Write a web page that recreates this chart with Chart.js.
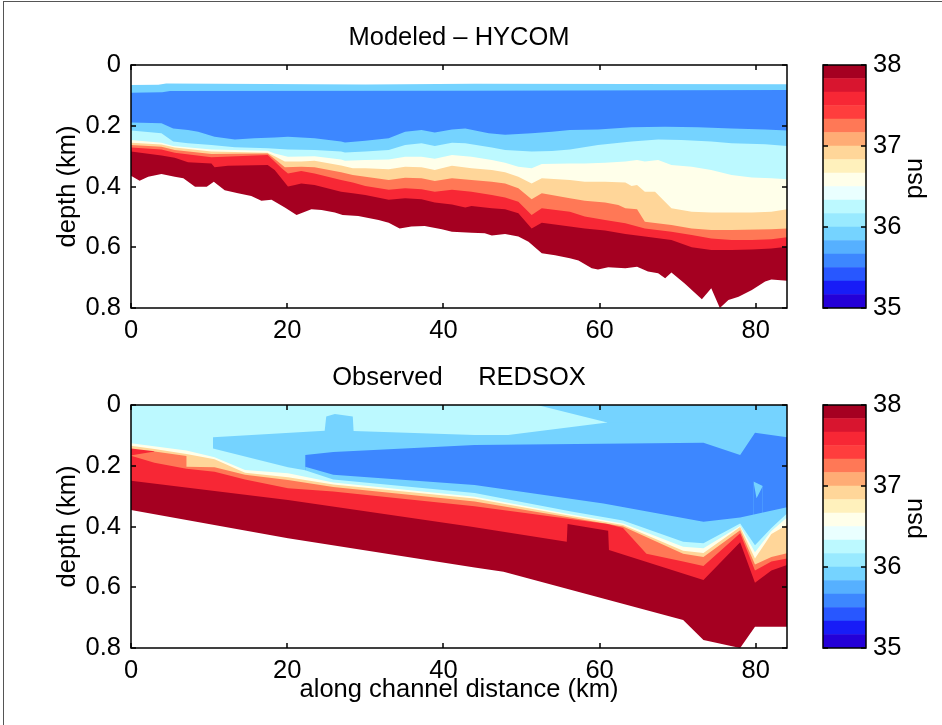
<!DOCTYPE html>
<html>
<head>
<meta charset="utf-8">
<script src="https://cdn.jsdelivr.net/npm/chart.js@4.4.1/dist/chart.umd.min.js"></script>
<style>
html, body { margin: 0; padding: 0; background: #fff; }
body { width: 942px; height: 725px; position: relative; overflow: hidden; }
#fig { position: absolute; left: 3px; top: 1px; width: 950px; height: 740px; border-left: 1px solid #555; border-top: 1px solid #555; }
canvas { position: absolute; }
</style>
</head>
<body>
<div id="fig"></div>
<canvas id="hycom" width="800" height="340" style="left:0;top:0"></canvas>
<canvas id="hycomBar" width="142" height="340" style="left:800px;top:0"></canvas>
<canvas id="redsox" width="800" height="385" style="left:0;top:340px"></canvas>
<canvas id="redsoxBar" width="142" height="385" style="left:800px;top:340px"></canvas>
<script>
// axis ticks
const distTicks = [0, 20, 40, 60, 80];
const depthTicks = [0, 0.2, 0.4, 0.6, 0.8];
const psuTicks = [35, 36, 37, 38];

// colour bar classes (psu) and their colours
const psuLevels = [35, 35.167, 35.333, 35.5, 35.667, 35.833, 36, 36.167, 36.333, 36.5,
                   36.667, 36.833, 37, 37.167, 37.333, 37.5, 37.667, 37.833, 38];
const psuColors = ['#2400d8', '#181cf7', '#2857ff', '#3d87ff', '#56b0ff', '#75d3ff',
                   '#99eaff', '#bcf9ff', '#eaffff', '#ffffea', '#fff1bc', '#ffd699',
                   '#ffac75', '#ff7856', '#ff3d3d', '#f72735', '#d8152f', '#a50021'];

const SKY = '#75d3ff', BLUE = '#3d87ff', LCYAN = '#bcf9ff', CREAM = '#ffffea';
const LORANGE = '#ffd699', ORANGE = '#ff7856', RED = '#f72735', DRED = '#a50021';

// Modeled - HYCOM: upper edge of each salinity band, [distance km, depth km]
const hyTop = [[0,0.066],[3.5,0.065],[4.5,0.061],[30,0.064],[44,0.062],[84,0.063]];
const hyBlue = [[0,0.091],[4,0.09],[5,0.086],[44,0.085],[84,0.082]];
const hySky = [[0,0.189],[3.9,0.192],[5.4,0.209],[7.3,0.214],[8.6,0.22],[10.7,0.236],[13.3,0.245],
  [15.8,0.241],[18.4,0.239],[20.1,0.236],[21.8,0.239],[23.5,0.241],[26.9,0.252],[27.4,0.255],[30,0.249],
  [33,0.241],[35.1,0.22],[37.2,0.214],[38.9,0.222],[41.1,0.212],[42.8,0.209],[45.8,0.225],[47.9,0.23],
  [51.3,0.225],[53.9,0.22],[56.2,0.214],[59.8,0.212],[64.1,0.205],[68.4,0.203],[72.6,0.205],[76.9,0.209],
  [81.2,0.212],[84,0.216]];
const hyLcyan = [[0,0.216],[3.9,0.225],[5.4,0.252],[7.3,0.258],[10.3,0.263],[13.3,0.271],[17.5,0.274],
  [20.1,0.278],[23.5,0.28],[26.9,0.285],[27.4,0.288],[30,0.285],[33,0.28],[35.1,0.263],[37.2,0.258],
  [38.9,0.267],[41.1,0.256],[42.8,0.258],[46.2,0.272],[47.9,0.28],[51.3,0.285],[53.9,0.283],[56.2,0.278],
  [59.8,0.263],[64.1,0.252],[67.5,0.245],[70.5,0.247],[74.3,0.252],[76.9,0.258],[81.2,0.261],[84,0.267]];
const hyCream = [[0,0.247],[3.9,0.256],[5.4,0.267],[10.3,0.278],[17.5,0.282],[18.4,0.291],[20.1,0.302],
  [23.5,0.3],[26.9,0.311],[27.4,0.315],[30,0.313],[33,0.311],[35.1,0.302],[37.2,0.302],[38.9,0.309],
  [41.1,0.296],[43.6,0.302],[46.2,0.313],[47.9,0.322],[49.6,0.335],[51.3,0.34],[52.6,0.326],[56.2,0.324],
  [58.1,0.324],[60.7,0.322],[63.3,0.318],[64.8,0.313],[65.8,0.318],[67.5,0.313],[69.2,0.329],[71.8,0.335],
  [74.3,0.346],[76.9,0.362],[79.5,0.37],[82,0.373],[84,0.376]];
const hyLorange = [[0,0.256],[3.9,0.262],[5.6,0.272],[10.3,0.285],[17.5,0.289],[18.4,0.3],[19.7,0.318],
  [21.8,0.318],[23.5,0.315],[26.9,0.331],[28.4,0.34],[30,0.34],[33,0.343],[35.1,0.335],[37.2,0.337],
  [38.9,0.346],[41.1,0.332],[43.6,0.34],[46.2,0.346],[47.9,0.353],[49.6,0.368],[51.3,0.39],[52.6,0.373],
  [56.2,0.379],[58.1,0.384],[60.7,0.384],[63.3,0.387],[64.1,0.398],[64.8,0.395],[65.8,0.417],[67.1,0.417],
  [69.2,0.472],[71.8,0.483],[74.3,0.486],[79.5,0.486],[82,0.483],[84,0.475]];
const hyOrange = [[0,0.263],[3.9,0.269],[5.6,0.28],[10.3,0.293],[17.5,0.291],[18.8,0.318],[19.7,0.337],
  [21.8,0.335],[23.5,0.337],[26.9,0.353],[28.4,0.362],[30,0.368],[33,0.379],[35.1,0.371],[37.2,0.373],
  [38.9,0.382],[41.1,0.373],[43.6,0.379],[46.2,0.384],[47.9,0.39],[49.6,0.406],[51.3,0.442],[52.6,0.422],
  [56.2,0.439],[58.1,0.447],[60.7,0.453],[62.4,0.461],[63.3,0.472],[64.8,0.475],[65.8,0.516],[69.2,0.527],
  [71.8,0.538],[74.3,0.543],[76.9,0.543],[82,0.541],[84,0.538]];
const hyRed = [[0,0.272],[3.9,0.278],[5.6,0.289],[10.3,0.304],[17.5,0.296],[19.3,0.34],[20.1,0.357],
  [21.8,0.349],[23.5,0.357],[26.9,0.379],[28.4,0.387],[30,0.398],[33,0.411],[35.1,0.406],[37.2,0.409],
  [38.9,0.417],[41.1,0.411],[43.6,0.417],[46.2,0.428],[47.9,0.436],[49.6,0.45],[51.3,0.494],[52.6,0.472],
  [56.2,0.483],[58.1,0.499],[60.7,0.51],[63.3,0.521],[65.8,0.538],[69.2,0.549],[71.8,0.56],[74.3,0.571],
  [76.9,0.576],[79.5,0.576],[82,0.574],[84,0.567]];
const hyDred = [[0,0.285],[3.9,0.298],[5.6,0.305],[7.3,0.32],[10.3,0.324],[10.7,0.337],[12.4,0.332],
  [17.5,0.329],[18.4,0.346],[20.1,0.4],[21,0.395],[21.8,0.39],[23.5,0.395],[26.9,0.417],[28.4,0.422],
  [30,0.428],[33,0.444],[35.1,0.439],[37.2,0.442],[38.9,0.453],[41.1,0.459],[42.8,0.469],[43.6,0.464],
  [46.2,0.472],[47.9,0.475],[49.6,0.488],[51.3,0.538],[52.6,0.519],[56.2,0.532],[58.1,0.538],[60.7,0.545],
  [63.3,0.556],[65.8,0.565],[69.2,0.576],[71.8,0.6],[74.3,0.609],[76.9,0.609],[79.5,0.607],[82,0.604],[84,0.598]];
const hyFloor = [[0,0.365],[1.1,0.381],[2.2,0.368],[3.9,0.359],[5.6,0.368],[6.7,0.373],[8.2,0.401],
  [9.7,0.401],[10.6,0.384],[12,0.412],[13.7,0.422],[15.4,0.431],[16.7,0.447],[18,0.444],[19.7,0.469],
  [21.2,0.494],[23.1,0.475],[24.4,0.477],[26.1,0.486],[27.1,0.494],[29.1,0.497],[31.7,0.51],[33,0.519],
  [34.4,0.538],[35.9,0.532],[37.6,0.53],[39.8,0.541],[41.1,0.549],[43.6,0.552],[45.3,0.554],[46.2,0.561],
  [47.9,0.556],[49.6,0.565],[50.9,0.582],[52.6,0.62],[54.3,0.626],[56.2,0.636],[57.3,0.644],[59,0.669],
  [59.8,0.673],[61.1,0.666],[63.3,0.669],[64.8,0.664],[66.2,0.68],[67.5,0.686],[68.4,0.702],[69.2,0.683],
  [70.9,0.719],[73.1,0.771],[74.3,0.735],[75.4,0.8],[76.5,0.774],[77.8,0.763],[79.5,0.741],[81.2,0.713],
  [82,0.706],[84,0.71]];

// Observed - REDSOX: upper edge of each band, [distance km, depth km]
const obSkyTop = [[0,0],[84,0]];
const obLcyanTop = [[0,0],[52,0],[61,0.058]];
const obSkyTongue = [[10.5,0.143],[10.5,0.106],[24.8,0.085],[25,0.038],[26.1,0.03],[28.4,0.038],
  [28.5,0.086],[44,0.099],[48.3,0.099],[61,0.058],[84,0.058]];
const obBlue = [[22.3,0.203],[22.3,0.165],[25.9,0.155],[44,0.132],[73.3,0.124],[78,0.165],[79.9,0.091],[84,0.106]];
const obSkyIsland = [[79.7,0.252],[80.9,0.267]];
const obBlueIsland = [[79.7,0.252],[80.1,0.307],[80.9,0.267]];
const obSkyBelow = [[22.3,0.203],[25.9,0.23],[44,0.263],[60.5,0.324],[73.3,0.384],[78,0.37],[79.9,0.36],[84,0.337]];
const obLcyan = [[0,0.12],[10.5,0.143],[20.1,0.205],[22.3,0.215],[25.9,0.245],[44,0.29],[56.2,0.35],
  [63,0.38],[70.7,0.45],[73.3,0.455],[78,0.39],[79.9,0.462],[82,0.405],[84,0.357]];
const obCream = [[0,0.126],[7.1,0.15],[10.7,0.172],[14.6,0.214],[20.1,0.225],[25.9,0.255],[44,0.302],
  [56.2,0.36],[63,0.39],[70.7,0.467],[73.3,0.472],[78,0.398],[79.9,0.485],[82,0.415],[84,0.37]];
const obLorange = [[0,0.134],[3,0.145],[7.1,0.161],[10.7,0.179],[14.6,0.223],[20.1,0.238],[25.9,0.262],
  [44,0.308],[56.2,0.365],[63,0.395],[70.7,0.48],[73.3,0.487],[78,0.402],[79.9,0.505],[82,0.425],[84,0.395]];
const obRedUpper = [[0,0.143],[3,0.152]];
const obOrange = [[0,0.166],[0.3,0.165],[3,0.153],[7.1,0.168],[7.1,0.203],[10.7,0.205],[14.6,0.23],
  [20.1,0.247],[25.9,0.27],[44,0.318],[56.2,0.37],[63,0.4],[70.7,0.49],[73.3,0.5],[78,0.412],[79.9,0.525],
  [82,0.5],[84,0.488]];
const obRed = [[0,0.167],[3,0.19],[7.1,0.21],[10.7,0.22],[14.6,0.245],[20.1,0.274],[25.9,0.285],[44,0.333],
  [56.2,0.375],[61,0.392],[63,0.405],[66,0.49],[70.7,0.515],[73.3,0.53],[78,0.422],[79.9,0.545],[82,0.515],[84,0.505]];
const obDred = [[0,0.249],[20.1,0.313],[30,0.35],[43.4,0.4],[55.8,0.45],[55.9,0.392],[61.1,0.414],
  [61.2,0.477],[73.3,0.576],[78,0.452],[79.9,0.585],[82,0.545],[84,0.527]];
const obFloor = [[0,0.346],[20.1,0.439],[44,0.535],[47.7,0.549],[70.7,0.708],[73.3,0.774],[78,0.8],[79.9,0.73],[84,0.73]];

const FONT = {family: '"Liberation Sans", Arial, sans-serif', size: 25.5};
Chart.defaults.font.family = FONT.family;
Chart.defaults.font.size = FONT.size;
Chart.defaults.color = '#000';

// box around the axes with inward tick marks, like the original figure
const framePlugin = {
  id: 'frame',
  afterDraw(chart, args, opts) {
    const {ctx, chartArea: a} = chart;
    const len = 5;
    ctx.save();
    ctx.strokeStyle = '#000';
    ctx.lineWidth = 1.5;
    ctx.strokeRect(a.left, a.top, a.right - a.left, a.bottom - a.top);
    ctx.beginPath();
    if (opts.xTicks) {
      opts.xTicks.forEach(v => {
        const px = Math.round(chart.scales.x.getPixelForValue(v));
        ctx.moveTo(px, a.bottom); ctx.lineTo(px, a.bottom - len);
        ctx.moveTo(px, a.top); ctx.lineTo(px, a.top + len);
      });
    }
    (opts.yTicks || []).forEach(v => {
      const py = Math.round(chart.scales.y.getPixelForValue(v));
      ctx.moveTo(a.left, py); ctx.lineTo(a.left + len, py);
      ctx.moveTo(a.right, py); ctx.lineTo(a.right - len, py);
    });
    ctx.stroke();
    ctx.restore();
  }
};

// colour bar label, rotated to read bottom to top
const cbLabel = {
  id: 'cbLabel',
  afterDraw(chart, args, opts) {
    const {ctx, chartArea: a} = chart;
    ctx.save();
    ctx.translate(opts.x, (a.top + a.bottom) / 2 + opts.dy);
    ctx.rotate(-Math.PI / 2);
    ctx.font = FONT.size + 'px ' + FONT.family;
    ctx.fillStyle = '#000';
    ctx.textAlign = 'center';
    ctx.textBaseline = 'middle';
    ctx.fillText(opts.text, 0, 0);
    ctx.restore();
  }
};

function toLayers(list) {
  return list.map(([pts, color], i) => ({
    data: pts.map(([x, y]) => ({x: x, y: y})),
    backgroundColor: color,
    borderColor: 'rgba(0,0,0,0)',
    borderWidth: 0,
    pointRadius: 0,
    fill: {value: 0.8},
    order: -i
  }));
}

function sectionChart(id, title, layers, xTitle) {
  const h = document.getElementById(id).height;
  return new Chart(document.getElementById(id), {
    type: 'line',
    data: {datasets: toLayers(layers)},
    options: {
      responsive: false,
      animation: false,
      devicePixelRatio: 1,
      events: [],
      layout: {padding: {left: 45, right: 13, top: 0, bottom: 0}},
      plugins: {
        legend: {display: false},
        tooltip: {enabled: false},
        frame: {xTicks: distTicks, yTicks: depthTicks}
      },
      scales: {
        x: {
          type: 'linear', min: 0, max: 84,
          grid: {display: false, drawTicks: false},
          border: {display: false},
          ticks: {padding: 8},
          afterBuildTicks: s => { s.ticks = distTicks.map(v => ({value: v})); },
          afterFit: s => { s.height = h - 308; },
          title: {display: !!xTitle, text: xTitle || '', padding: {top: 0, bottom: 19.7}}
        },
        // top axis only carries the panel title, centred over the plot
        top: {
          type: 'linear', position: 'top', min: 0, max: 84,
          grid: {display: false, drawTicks: false},
          border: {display: false},
          ticks: {display: false},
          afterFit: s => { s.height = 65; },
          title: {display: true, text: title, padding: {top: 22.7, bottom: 0}}
        },
        y: {
          type: 'linear', reverse: true, min: 0, max: 0.8,
          grid: {display: false, drawTicks: false},
          border: {display: false},
          ticks: {padding: 10},
          afterBuildTicks: s => { s.ticks = depthTicks.map(v => ({value: v})); },
          afterFit: s => { s.width = 86; },
          title: {display: true, text: 'depth (km)', padding: {top: 7.7, bottom: 0}}
        }
      }
    },
    plugins: [framePlugin]
  });
}

function colorBar(id) {
  const h = document.getElementById(id).height;
  return new Chart(document.getElementById(id), {
    type: 'bar',
    data: {
      labels: ['psu'],
      datasets: psuColors.map((c, i) => ({
        data: [[psuLevels[i], psuLevels[i + 1]]],
        backgroundColor: c,
        borderWidth: 0,
        barPercentage: 1,
        categoryPercentage: 1,
        grouped: false
      }))
    },
    options: {
      responsive: false,
      animation: false,
      devicePixelRatio: 1,
      events: [],
      layout: {padding: {left: 23, right: 0, top: 65, bottom: h - 308}},
      plugins: {
        legend: {display: false},
        tooltip: {enabled: false},
        frame: {yTicks: psuTicks},
        cbLabel: {text: 'psu', x: 115, dy: -8}
      },
      scales: {
        x: {display: false},
        y: {
          position: 'right', min: 35, max: 38,
          grid: {display: false, drawTicks: false},
          border: {display: false},
          ticks: {padding: 7},
          afterBuildTicks: s => { s.ticks = psuTicks.map(v => ({value: v})); },
          afterFit: s => { s.width = 76; }
        }
      }
    },
    plugins: [framePlugin, cbLabel]
  });
}

sectionChart('hycom', 'Modeled \u2013 HYCOM', [
  [hyTop, SKY], [hyBlue, BLUE], [hySky, SKY], [hyLcyan, LCYAN], [hyCream, CREAM],
  [hyLorange, LORANGE], [hyOrange, ORANGE], [hyRed, RED], [hyDred, DRED], [hyFloor, '#ffffff']
]);
sectionChart('redsox', 'Observed     REDSOX', [
  [obSkyTop, SKY], [obLcyanTop, LCYAN], [obSkyTongue, SKY], [obBlue, BLUE], [obSkyIsland, SKY],
  [obBlueIsland, BLUE], [obSkyBelow, SKY], [obLcyan, LCYAN], [obCream, CREAM], [obLorange, LORANGE],
  [obRedUpper, RED], [obOrange, ORANGE], [obRed, RED], [obDred, DRED], [obFloor, '#ffffff']
], 'along channel distance (km)');
colorBar('hycomBar');
colorBar('redsoxBar');
</script>
</body>
</html>
